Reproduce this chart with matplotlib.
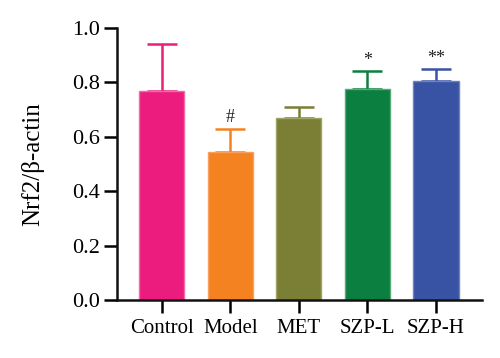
import matplotlib
matplotlib.use("Agg")
import matplotlib.pyplot as plt

categories = ["Control", "Model", "MET", "SZP-L", "SZP-H"]
values = [0.768, 0.544, 0.668, 0.776, 0.804]
errors = [0.172, 0.086, 0.040, 0.066, 0.044]
marks = ["", "#", "", "*", "**"]
colors = ["#EC1C7E", "#F58220", "#7B7F35", "#0A7F40", "#3953A4"]
edge_colors = ["#F06AA5", "#F8A060", "#A0A468", "#5AA878", "#6E82C0"]

plt.rcParams['font.family'] = ['Liberation Serif', 'DejaVu Serif']

fig = plt.figure(figsize=(5.0, 3.58), dpi=100)
ax = fig.add_axes([0.234, 0.162, 0.730, 0.760])

x = list(range(len(categories)))
for i in x:
    ax.bar(i, values[i], width=0.66, color=colors[i], edgecolor=edge_colors[i],
           linewidth=1.0, zorder=2)
    ax.errorbar(i, values[i], yerr=[[0], [errors[i]]], fmt='none',
                ecolor=colors[i], elinewidth=1.8, capsize=11, capthick=1.8, zorder=1)
    if marks[i]:
        ax.text(i, values[i] + errors[i] + 0.008, marks[i], ha='center', va='bottom',
                fontsize=13, color='#222222')

ax.set_xlim(-0.65, 4.67)
ax.set_ylim(0, 1.0)
ax.set_yticks([0.0, 0.2, 0.4, 0.6, 0.8, 1.0])
ax.set_yticklabels(["0.0", "0.2", "0.4", "0.6", "0.8", "1.0"])
ax.set_xticks(x)
ax.set_xticklabels(categories)
ax.set_ylabel("Nrf2/β-actin", fontsize=18, labelpad=20)

for s in ["top", "right"]:
    ax.spines[s].set_visible(False)
for s in ["left", "bottom"]:
    ax.spines[s].set_linewidth(1.8)
    ax.spines[s].set_color("#111111")
ax.spines['left'].set_bounds(0, 1.0)

ax.tick_params(axis='y', direction='out', length=9.5, width=1.8, labelsize=16, pad=3)
ax.tick_params(axis='x', direction='out', length=9.5, width=1.8, labelsize=15, pad=4)

fig.savefig("out.png", dpi=100)
